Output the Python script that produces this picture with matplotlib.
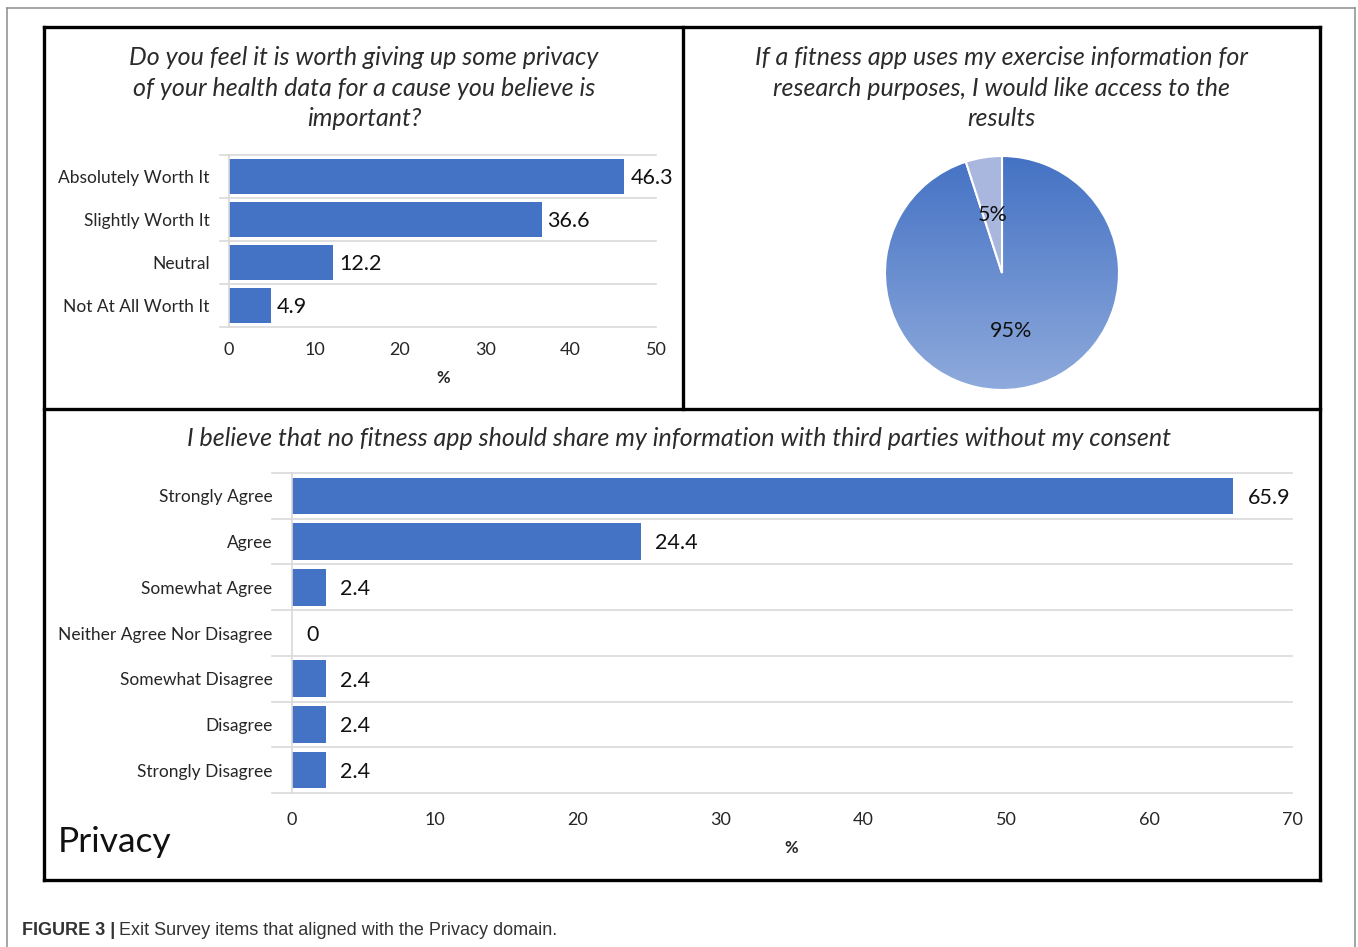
import numpy as np
import matplotlib
matplotlib.use("Agg")
import matplotlib.pyplot as plt
from matplotlib.lines import Line2D
from matplotlib.colors import LinearSegmentedColormap

plt.rcParams['font.family'] = ['Lato', 'DejaVu Sans']

# ---- data ----
worth_title = ("Do you feel it is worth giving up some privacy\n"
               "of your health data for a cause you believe is\nimportant?")
worth_labels = ["Absolutely Worth It", "Slightly Worth It", "Neutral", "Not At All Worth It"]
worth_values = [46.3, 36.6, 12.2, 4.9]

access_title = ("If a fitness app uses my exercise information for\n"
                "research purposes, I would like access to the\nresults")
access_values = [95, 5]

share_title = ("I believe that no fitness app should share my information "
               "with third parties without my consent")
share_labels = ["Strongly Agree", "Agree", "Somewhat Agree", "Neither Agree Nor Disagree",
                "Somewhat Disagree", "Disagree", "Strongly Disagree"]
share_values = [65.9, 24.4, 2.4, 0, 2.4, 2.4, 2.4]

BLUE = "#4472C4"
GRID = "#D9D9D9"
W, H = 1358, 947

fig = plt.figure(figsize=(W / 100, H / 100), dpi=100)


def fx(x):
    return x / W


def fy(y):
    return 1 - y / H


def px_axes(left, top, right, bottom):
    return fig.add_axes([fx(left), fy(bottom), (right - left) / W, (bottom - top) / H])


def hbar_panel(ax, labels, values, xmax, step, tick_pad):
    y = np.arange(len(labels))
    ax.barh(y, values, height=0.8, color=BLUE, zorder=2)
    ax.set_ylim(len(labels) - 0.5, -0.5)
    ax.set_xlim(0, xmax)
    ax.set_yticks(y, labels, fontsize=12.5, color="#262626")
    ax.set_xticks(np.arange(0, xmax + 1, step))
    ax.tick_params(axis='x', length=0, pad=tick_pad, labelsize=13, labelcolor="#262626")
    ax.tick_params(axis='y', length=0, pad=14)
    for b in np.arange(-0.5, len(labels)):
        ax.axhline(b, xmin=-0.02, color=GRID, lw=1.2, zorder=0, clip_on=False)
    for s in ['top', 'right', 'bottom']:
        ax.spines[s].set_visible(False)
    ax.spines['left'].set_color(GRID)
    ax.spines['left'].set_linewidth(1.2)
    for i, v in enumerate(values):
        ax.text(v + xmax * 0.014, i + 0.04, f"{v:g}", va='center', ha='left', fontsize=15.5, color="#111111")


title_style = dict(ha='center', va='center', fontsize=18, style='italic', color="#2b2b2b")

# top-left bar chart
ax1 = px_axes(229, 155, 656, 327)
hbar_panel(ax1, worth_labels, worth_values, 50, 10, 11)
fig.text(fx(443), fy(378), "%", ha='center', va='center', fontsize=12, fontweight='bold', color="#262626")
fig.text(fx(364), fy(88), worth_title, linespacing=1.42, **title_style)

# pie chart with vertical gradient on the big slice
r_px = 117
cx, cy = 1002, 273
ax2 = px_axes(cx - 130, cy - 130, cx + 130, cy + 130)
wedges, texts, autotexts = ax2.pie(access_values, startangle=90, counterclock=False,
                                   colors=[BLUE, "#A9B7DE"], autopct='%.0f%%', pctdistance=0.5,
                                   wedgeprops=dict(edgecolor='white', linewidth=1.5),
                                   textprops=dict(fontsize=15.5, color="#111111"))
cmap = LinearSegmentedColormap.from_list("pie_grad", ["#4472C4", "#8FAADC"])
grad = np.linspace(0, 1, 256).reshape(-1, 1)
img = ax2.imshow(grad, cmap=cmap, extent=[-1, 1, -1, 1], origin='upper', aspect='auto', zorder=0.5)
img.set_clip_path(wedges[0])
wedges[0].set_facecolor('none')
wedges[0].set_zorder(1)
ax2.set_xlim(-130 / r_px, 130 / r_px)
ax2.set_ylim(-130 / r_px, 130 / r_px)
ax2.set_aspect('equal')
ax2.axis('off')
fig.text(fx(1001), fy(88), access_title, linespacing=1.42, **title_style)

# bottom bar chart
ax3 = px_axes(292, 473, 1292, 793)
hbar_panel(ax3, share_labels, share_values, 70, 10, 14)
fig.text(fx(791), fy(848), "%", ha='center', va='center', fontsize=12, fontweight='bold', color="#262626")
fig.text(fx(679), fy(438), share_title, **title_style)

privacy = fig.text(fx(58), fy(842), "Privacy", ha='left', va='center', fontsize=25.5, color="#111111")

# panel frames
frame = dict(color='black', lw=2.4, transform=fig.transFigure)
for (x0, y0, x1, y1) in [(44, 27, 1320, 27), (44, 880, 1320, 880), (44, 27, 44, 880),
                         (1320, 27, 1320, 880), (44, 409, 1320, 409), (683, 27, 683, 409)]:
    fig.add_artist(Line2D([fx(x0), fx(x1)], [fy(y0), fy(y1)], **frame))

# outer page border
border = dict(color='#8C8C8C', lw=1.1, transform=fig.transFigure)
for (x0, y0, x1, y1) in [(7, 8, 1355, 8), (7, 8, 7, 947), (1355, 8, 1355, 947)]:
    fig.add_artist(Line2D([fx(x0), fx(x1)], [fy(y0), fy(y1)], **border))

# caption
renderer = fig.canvas.get_renderer()
cap1 = fig.text(fx(22), fy(930), "FIGURE 3 |", ha='left', va='center', fontsize=13,
                fontweight='bold', family=['Liberation Sans', 'DejaVu Sans'], color="#333333")
ext = cap1.get_window_extent(renderer)
fig.text(ext.x1 / W + 4 / W, fy(930), "Exit Survey items that aligned with the Privacy domain.",
         ha='left', va='center', fontsize=13, family=['Liberation Sans', 'DejaVu Sans'], color="#333333")

fig.savefig("out.png", dpi=100)
